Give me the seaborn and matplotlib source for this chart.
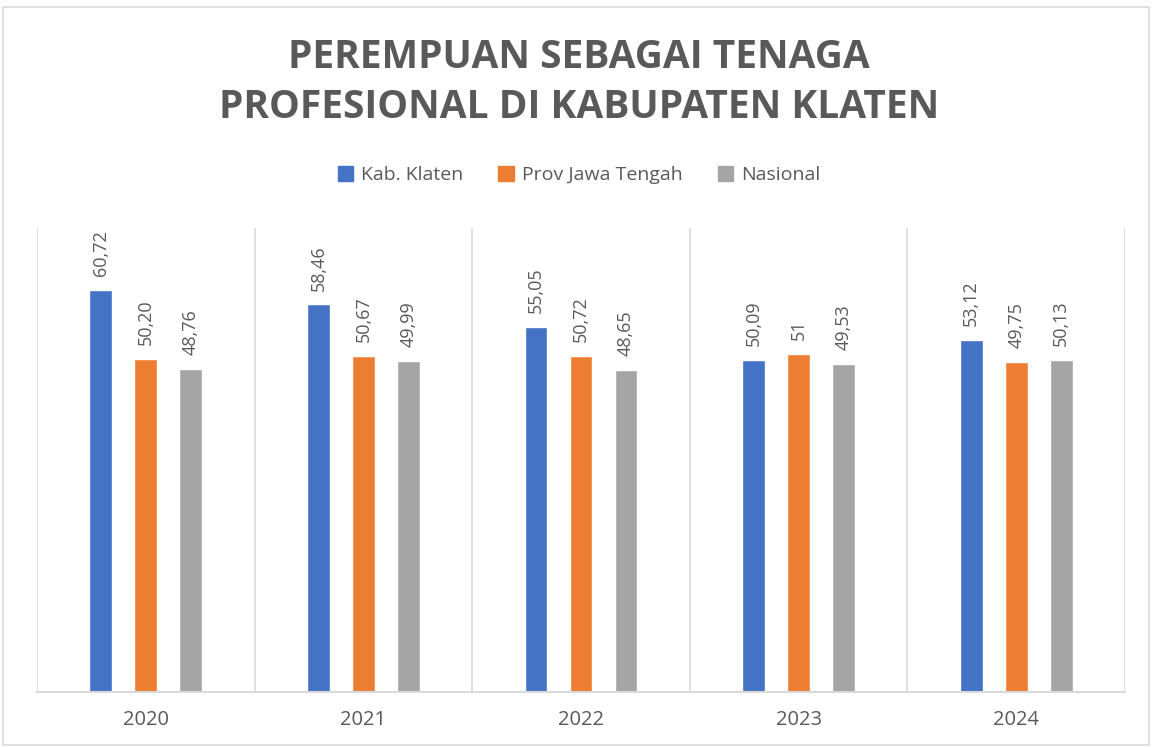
import matplotlib
matplotlib.use("Agg")
import matplotlib.pyplot as plt
import seaborn as sns
import pandas as pd
from matplotlib.patches import Rectangle

years = ["2020", "2021", "2022", "2023", "2024"]
series = ["Kab. Klaten", "Prov Jawa Tengah", "Nasional"]
klaten = [60.72, 58.46, 55.05, 50.09, 53.12]
jateng = [50.20, 50.67, 50.72, 51.00, 49.75]
nasional = [48.76, 49.99, 48.65, 49.53, 50.13]
klaten_lbl = ["60,72", "58,46", "55,05", "50,09", "53,12"]
jateng_lbl = ["50,20", "50,67", "50,72", "51", "49,75"]
nasional_lbl = ["48,76", "49,99", "48,65", "49,53", "50,13"]
colors = ["#4472C4", "#ED7D31", "#A5A5A5"]

rows = []
for vals, name in zip([klaten, jateng, nasional], series):
    for y, v in zip(years, vals):
        rows.append({"Tahun": y, "Seri": name, "Nilai": v})
df = pd.DataFrame(rows)

sns.set_theme(style="white")
plt.rcParams['font.family'] = ['Open Sans', 'DejaVu Sans']

fig = plt.figure(figsize=(11.58, 7.47), dpi=100)
ax = fig.add_axes([37/1158, 1-692/747, (1125-37)/1158, (692-228)/747])

sns.barplot(data=df, x="Tahun", y="Nilai", hue="Seri", order=years, hue_order=series,
            palette=colors, width=0.62, gap=0.49, ax=ax, legend=False, saturation=1)

labels_all = [klaten_lbl, jateng_lbl, nasional_lbl]
for cont, lbls in zip(ax.containers, labels_all):
    ax.bar_label(cont, labels=lbls, rotation=90, padding=10, fontsize=13, color="#595959")

ax.set_ylim(0, 70)
ax.set_xlim(-0.5, 4.5)
ax.set_yticks([])
ax.set_xlabel("")
ax.set_ylabel("")
for b in [0.5, 1.5, 2.5, 3.5, 4.5, -0.5]:
    ax.axvline(b, color="#D9D9D9", lw=1.2, zorder=0)
for s in ["top", "right", "left"]:
    ax.spines[s].set_visible(False)
ax.spines["bottom"].set_color("#D9D9D9")
ax.spines["bottom"].set_linewidth(1.5)
ax.tick_params(axis="x", length=0, pad=13, labelsize=14.5, labelcolor="#595959")

fig.text(0.5, 1-57/747, "PEREMPUAN SEBAGAI TENAGA", ha="center", va="center",
         fontsize=28, fontweight="bold", color="#595959")
fig.text(0.5, 1-107/747, "PROFESIONAL DI KABUPATEN KLATEN", ha="center", va="center",
         fontsize=28, fontweight="bold", color="#595959")

handles = [Rectangle((0, 0), 1, 1, color=c) for c in colors]
fig.legend(handles, series, loc="center", bbox_to_anchor=(0.5, 1-175/747), ncol=3,
           frameon=False, fontsize=14, handlelength=0.8, handleheight=0.8,
           handletextpad=0.4, columnspacing=1.8, labelcolor="#595959")

fig.patches.append(Rectangle((3/1158, 2/747), 1146/1158, 738/747, transform=fig.transFigure,
                             fill=False, edgecolor="#D9D9D9", lw=1.2))

fig.savefig("out.png", dpi=100)
